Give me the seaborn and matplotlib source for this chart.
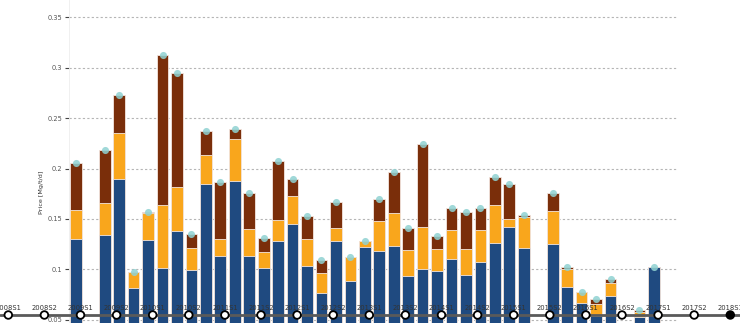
import numpy as np
import pandas as pd
import matplotlib
matplotlib.use("Agg")
import matplotlib.pyplot as plt
import seaborn as sns

nan = np.nan

# ---- data -------------------------------------------------------------
slots = ["p%02d" % i for i in range(1, 43)]
blue_part = [0.130, nan, 0.1336, 0.1896, 0.0815, 0.1288, 0.101, 0.1377, 0.099, 0.1846,
             0.1132, 0.1876, 0.1132, 0.1016, 0.1281, 0.1446, 0.1033, 0.0768, 0.1278, 0.0881,
             0.1221, 0.1182, 0.1234, 0.0931, 0.100, 0.0986, 0.1105, 0.0943, 0.1069, 0.1258,
             0.1417, 0.1214, nan, 0.1251, 0.0824, 0.0666, 0.0537, 0.0735, nan, 0.053,
             0.102, nan]
orange_part = [0.0288, nan, 0.0319, 0.0459, 0.0158, 0.0273, 0.0625, 0.044, 0.0221, 0.0285,
               0.0172, 0.0414, 0.0265, 0.0153, 0.0205, 0.0284, 0.0271, 0.0195, 0.0129, 0.0241,
               0.0063, 0.030, 0.0325, 0.0261, 0.0423, 0.0218, 0.0288, 0.0261, 0.0318, 0.0383,
               0.0083, 0.0302, nan, 0.0324, 0.0182, 0.0109, 0.0122, 0.0129, nan, 0.005,
               0.0, nan]
brown_part = [0.0464, nan, 0.0529, 0.0377, 0.0, 0.001, 0.1494, 0.1133, 0.0136, 0.0241,
              0.0562, 0.0099, 0.0357, 0.0145, 0.0585, 0.0166, 0.0222, 0.0129, 0.0264, 0.0,
              0.0, 0.0218, 0.0406, 0.0215, 0.082, 0.0126, 0.0215, 0.0362, 0.0221, 0.0278,
              0.0346, 0.0026, nan, 0.0179, 0.0017, 0.0, 0.0043, 0.004, nan, 0.0016,
              0.0, nan]

ytick_values = [0.05, 0.1, 0.15, 0.2, 0.25, 0.3, 0.35]
ytick_labels = ["0.05", "0.1", "0.15", "0.2", "0.25", "0.3", "0.35"]
y_label = "Price [Mg/t/d]"

timeline_labels = ["2008S1", "2008S2", "2009S1", "2009S2", "2010S1", "2010S2",
                   "2011S1", "2011S2", "2012S1", "2012S2", "2013S1", "2013S2",
                   "2014S1", "2014S2", "2015S1", "2015S2", "2016S1", "2016S2",
                   "2017S1", "2017S2", "2018S1"]

# ---- style ------------------------------------------------------------
C_BLUE = "#1f4a80"
C_ORANGE = "#f9a61c"
C_BROWN = "#7a2e0a"
C_DOT = "#8fd2d2"
EDGE = "#f3e6df"

sns.set_style("white")
plt.rcParams["font.family"] = ["DejaVu Sans"]

df = pd.DataFrame({"slot": slots, "blue": blue_part, "orange": orange_part, "brown": brown_part})
df["lvl1"] = df["blue"]
df["lvl2"] = df["blue"] + df["orange"]
df["lvl3"] = df["lvl2"] + df["brown"]
df["pos"] = np.arange(len(df))

W, H = 740, 323
fig = plt.figure(figsize=(W / 100, H / 100), dpi=100)
ax = fig.add_axes([69 / W, 0, (678 - 69) / W, 1])

bw = 0.81
for col, c in [("lvl3", C_BROWN), ("lvl2", C_ORANGE), ("lvl1", C_BLUE)]:
    sns.barplot(data=df, x="slot", y=col, order=slots, color=c, width=bw,
                errorbar=None, saturation=1, edgecolor=EDGE, linewidth=0.6, ax=ax)

sns.scatterplot(data=df.dropna(subset=["lvl3"]), x="pos", y="lvl3", color=C_DOT,
                s=26, alpha=0.85, linewidth=0, ax=ax, zorder=5)

ax.set_xlim(-0.47, 41.67)
ax.set_ylim(0.3 - 255.3 / 1008, 0.3 + 67.7 / 1008)
ax.set_yticks(ytick_values)
ax.set_yticklabels(ytick_labels)
ax.set_xticks([])
ax.set_xlabel("")
ax.set_ylabel("")
ax.grid(axis="y", color="#b5b5b5", linestyle=(0, (2, 2)), linewidth=0.8)
ax.set_axisbelow(True)
for s in ["top", "right", "bottom"]:
    ax.spines[s].set_visible(False)
ax.spines["left"].set_color("#eeeeee")
ax.spines["left"].set_linewidth(0.6)
ax.tick_params(axis="y", length=3, width=0.8, color="#444444", pad=2,
               labelsize=4.8, labelcolor="#555555", left=True)

fig.text(42 / W, 1 - 192 / H, y_label, rotation=90, ha="center", va="center",
         fontsize=4.6, color="#333333")

# ---- timeline overlay -------------------------------------------------
tl = fig.add_axes([0, 0, 1, 1], facecolor="none")
step = 36.1
x0 = 8.3
tl.set_xlim(-x0 / step, (W - x0) / step)
tl.set_ylim(0, H)
tl.axis("off")
tl.axhline(8, color="#5a5a5a", linewidth=2.0, zorder=1)
tdf = pd.DataFrame({"label": timeline_labels, "pos": np.arange(len(timeline_labels))})
tdf["y"] = 8.0
tdf["state"] = ["past"] * (len(tdf) - 1) + ["current"]
sns.scatterplot(data=tdf, x="pos", y="y", hue="state",
                palette={"past": "white", "current": "black"},
                edgecolor="black", linewidth=1.3, s=30, legend=False, ax=tl, zorder=3)
tl.set_xlabel("")
tl.set_ylabel("")
for i, lab in enumerate(timeline_labels):
    tl.text(i, 15.5, lab, ha="center", va="center", fontsize=4.9, color="#333333")

fig.savefig("out.png", dpi=100)
